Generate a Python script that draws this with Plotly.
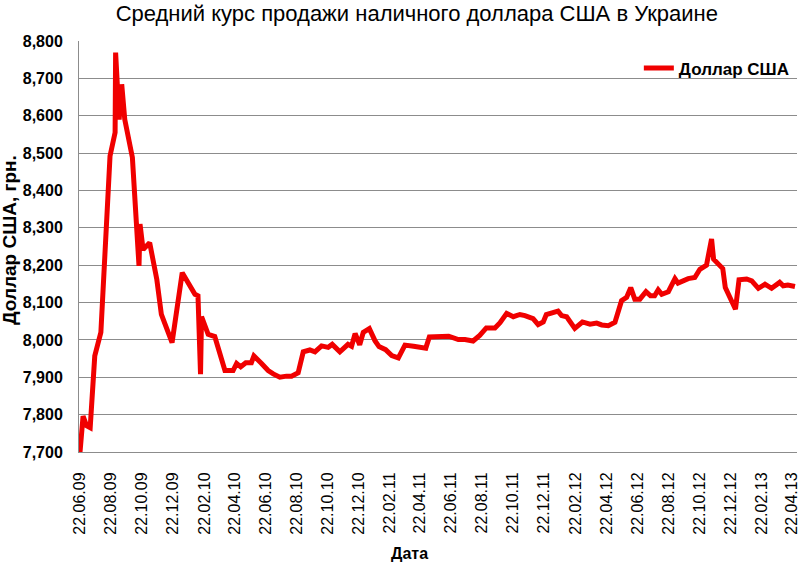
import pandas as pd
import plotly.graph_objects as go

# Средний курс продажи наличного доллара США, грн.
dates = [
    "2009-06-22", "2009-06-28", "2009-07-05", "2009-07-12", "2009-07-21",
    "2009-08-02", "2009-08-20", "2009-08-30", "2009-08-31", "2009-09-07",
    "2009-09-12", "2009-09-18", "2009-10-03", "2009-10-16", "2009-10-18",
    "2009-10-24", "2009-11-06", "2009-11-20", "2009-11-29", "2009-12-20",
    "2010-01-09", "2010-02-03", "2010-02-09", "2010-02-14", "2010-02-16",
    "2010-03-01", "2010-03-14", "2010-03-31", "2010-04-03", "2010-04-19",
    "2010-04-26", "2010-05-04", "2010-05-14", "2010-05-25", "2010-05-30",
    "2010-06-14", "2010-06-27", "2010-07-07", "2010-07-20", "2010-08-02",
    "2010-08-12", "2010-08-25", "2010-09-04", "2010-09-17", "2010-09-27",
    "2010-10-10", "2010-10-23", "2010-10-31", "2010-11-15", "2010-12-01",
    "2010-12-08", "2010-12-15", "2010-12-24", "2010-12-31", "2011-01-12",
    "2011-01-23", "2011-01-31", "2011-02-13", "2011-02-25", "2011-03-10",
    "2011-03-23", "2011-04-09", "2011-05-03", "2011-05-10", "2011-05-27",
    "2011-06-17", "2011-07-06", "2011-07-19", "2011-08-04", "2011-08-17",
    "2011-08-30", "2011-09-16", "2011-09-26", "2011-10-09", "2011-10-22",
    "2011-11-04", "2011-11-14", "2011-11-30", "2011-12-10", "2011-12-20",
    "2011-12-26", "2012-01-18", "2012-01-25", "2012-02-04", "2012-02-20",
    "2012-03-06", "2012-03-21", "2012-04-03", "2012-04-13", "2012-04-26",
    "2012-05-09", "2012-05-22", "2012-06-01", "2012-06-09", "2012-06-17",
    "2012-06-27", "2012-07-09", "2012-07-18", "2012-07-26", "2012-08-02",
    "2012-08-09", "2012-08-22", "2012-09-04", "2012-09-10", "2012-09-30",
    "2012-10-13", "2012-10-23", "2012-11-05", "2012-11-15", "2012-11-19",
    "2012-12-07", "2012-12-12", "2013-01-01", "2013-01-08", "2013-01-23",
    "2013-02-02", "2013-02-15", "2013-02-28", "2013-03-13", "2013-03-29",
    "2013-04-05", "2013-04-14", "2013-04-28",
]
usd = [
    7.700, 7.796, 7.770, 7.765, 7.957,
    8.020, 8.492, 8.555, 8.769, 8.590,
    8.684, 8.590, 8.488, 8.198, 8.310,
    8.242, 8.260, 8.162, 8.068, 7.993,
    8.180, 8.122, 8.118, 7.908, 8.062,
    8.015, 8.009, 7.928, 7.918, 7.918,
    7.937, 7.928, 7.939, 7.939, 7.957,
    7.937, 7.918, 7.909, 7.900, 7.903,
    7.903, 7.912, 7.968, 7.973, 7.968,
    7.984, 7.980, 7.988, 7.968, 7.988,
    7.983, 8.017, 7.987, 8.020, 8.030,
    7.998, 7.982, 7.974, 7.958, 7.952,
    7.986, 7.983, 7.978, 8.008, 8.008,
    8.010, 8.001, 8.001, 7.997, 8.012,
    8.032, 8.032, 8.046, 8.071, 8.062,
    8.068, 8.065, 8.057, 8.041, 8.048,
    8.068, 8.077, 8.065, 8.062, 8.031,
    8.048, 8.042, 8.045, 8.040, 8.038,
    8.047, 8.105, 8.114, 8.140, 8.109,
    8.109, 8.129, 8.118, 8.118, 8.134,
    8.122, 8.129, 8.164, 8.152, 8.164,
    8.167, 8.189, 8.200, 8.270, 8.216,
    8.191, 8.140, 8.082, 8.161, 8.163,
    8.158, 8.138, 8.149, 8.138, 8.154,
    8.145, 8.147, 8.143,
]

tick_labels = [
    "22.06.09", "22.08.09", "22.10.09", "22.12.09", "22.02.10", "22.04.10",
    "22.06.10", "22.08.10", "22.10.10", "22.12.10", "22.02.11", "22.04.11",
    "22.06.11", "22.08.11", "22.10.11", "22.12.11", "22.02.12", "22.04.12",
    "22.06.12", "22.08.12", "22.10.12", "22.12.12", "22.02.13", "22.04.13",
]
tick_dates = pd.to_datetime(tick_labels, format="%d.%m.%y")

FONT = "Liberation Sans, Arial, sans-serif"
GRID = "#8c8c8c"

fig = go.Figure()
fig.add_trace(go.Scatter(
    x=pd.to_datetime(dates), y=usd,
    mode="lines",
    name="Доллар США",
    line=dict(color="rgb(240,0,0)", width=5),
))

fig.update_layout(
    width=800, height=563,
    margin=dict(l=79, r=3, t=41, b=111),
    paper_bgcolor="white", plot_bgcolor="white",
    separators=",.",
    font=dict(family=FONT, color="black"),
    title=dict(
        text="Средний курс продажи наличного доллара США в Украине",
        x=0.521, xanchor="center", y=0.977, yanchor="middle",
        font=dict(size=22, family=FONT, color="black"),
    ),
    showlegend=True,
    legend=dict(
        x=0.997, xanchor="right", y=0.933, yanchor="middle",
        bgcolor="rgba(0,0,0,0)", borderwidth=0,
        font=dict(size=17, family=FONT, color="black", weight="bold"),
    ),
    xaxis=dict(
        type="date",
        range=["2009-06-20", "2013-05-02"],
        tickvals=tick_dates, ticktext=tick_labels,
        tickangle=-90,
        tickfont=dict(size=16, family=FONT, color="black"),
        showgrid=False, zeroline=False,
        showline=True, linecolor=GRID, linewidth=1,
        ticks="", ticklabelstandoff=13, automargin=False,
        ticklabeloverflow="allow",
    ),
    yaxis=dict(
        range=[7.7, 8.8], dtick=0.1, tick0=7.7,
        tickformat=".3f",
        tickfont=dict(size=16, family=FONT, color="black", weight="bold"),
        showgrid=True, gridcolor=GRID, gridwidth=1,
        zeroline=False,
        showline=True, linecolor=GRID, linewidth=1,
        ticks="", ticklabelstandoff=12, automargin=False,
    ),
    annotations=[
        dict(text="<b>Доллар США, грн.</b>", xref="paper", yref="paper",
             x=-0.096, y=0.516, xanchor="center", yanchor="middle",
             textangle=-90, showarrow=False,
             font=dict(size=19, family=FONT, color="black")),
        dict(text="<b>Дата</b>", xref="paper", yref="paper",
             x=0.46, y=-0.246, xanchor="center", yanchor="middle",
             showarrow=False,
             font=dict(size=16, family=FONT, color="black")),
    ],
)

# page body has a default 8px margin, drop it so the figure sits at 0,0
fig.write_html("out.html", config={"displayModeBar": False},
               post_script="document.body.style.margin='0';")
